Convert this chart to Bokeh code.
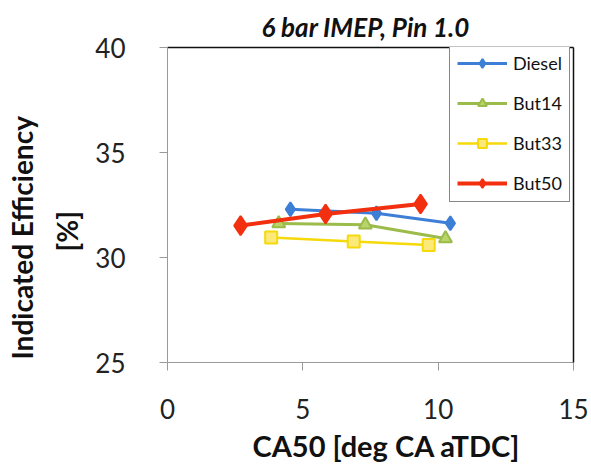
from bokeh.plotting import figure
from bokeh.models import LinearAxis, Range1d, FixedTicker, Legend, Title
from bokeh.embed import file_html
from bokeh.resources import INLINE

# CA50 timing [deg CA aTDC] and indicated efficiency [%] per fuel
diesel_x = [4.54, 7.72, 10.45]
diesel_y = [32.30, 32.11, 31.63]
but14_x = [4.11, 7.31, 10.27]
but14_y = [31.62, 31.56, 30.90]
but33_x = [3.83, 6.88, 9.65]
but33_y = [30.95, 30.76, 30.60]
but50_x = [2.70, 5.84, 9.35]
but50_y = [31.52, 32.07, 32.55]

x_ticks = [0, 5, 10, 15]
y_ticks = [25, 30, 35, 40]

FONT = "Lato"

p = figure(width=591, height=466, output_backend="svg", toolbar_location=None,
           x_range=Range1d(0, 15), y_range=Range1d(25, 40),
           min_border_left=167, min_border_right=18,
           min_border_top=47, min_border_bottom=103)
p.xgrid.visible = False
p.ygrid.visible = False
p.outline_line_color = None
p.background_fill_color = "white"
p.border_fill_color = "white"

p.title.text = "6 bar IMEP, Pin 1.0"
p.title.text_font = FONT
p.title.text_font_style = "bold italic"
p.title.text_font_size = "26px"
p.title.align = "left"
p.title.offset = 94
p.title.text_color = "#111111"

for ax, ticks in ((p.xaxis[0], x_ticks), (p.yaxis[0], y_ticks)):
    ax.ticker = FixedTicker(ticks=ticks)
    ax.minor_tick_line_color = None
    ax.axis_line_color = "#9a9a9a"
    ax.major_tick_line_color = "#9a9a9a"
    ax.major_tick_in = 0
    ax.major_tick_out = 8
    ax.major_label_text_font = FONT
    ax.major_label_text_font_size = "26px"
    ax.major_label_text_color = "#222222"
p.xaxis.major_label_standoff = 28
p.yaxis.major_label_standoff = 34

# black frame on top and right
for side in ("above", "right"):
    frame_axis = LinearAxis(ticker=FixedTicker(ticks=[]), axis_line_color="#111111",
                            axis_line_width=1.5, major_tick_line_color=None,
                            minor_tick_line_color=None, major_label_text_font_size="0px")
    p.add_layout(frame_axis, side)

# x-axis title
p.add_layout(Title(text="CA50 [deg CA aTDC]", align="left", offset=85, standoff=8,
                   text_font=FONT, text_font_style="bold",
                   text_font_size="29px", text_color="#111111"), "below")

# two-line y-axis title, stacked outward from the axis
for text, offset, standoff in (("[%]", 111, 18), ("Indicated Efficiency", 3, 0)):
    p.add_layout(Title(text=text, align="left", offset=offset, standoff=standoff,
                       text_font=FONT, text_font_style="bold",
                       text_font_size="28px", text_color="#111111"), "left")

series = [
    ("Diesel", diesel_x, diesel_y, "#3d7fd6", "#3d7fd6", "diamond", 14, 3),
    ("But14", but14_x, but14_y, "#9bbb4a", "#b8d46a", "triangle", 13, 3),
    ("But33", but33_x, but33_y, "#f5d90a", "#fbe97a", "square", 12, 2.5),
    ("But50", but50_x, but50_y, "#f2300f", "#f2300f", "diamond", 19, 4),
]

items = []
for name, xs, ys, col, fill, marker, size, lw in series:
    ln = p.line(xs, ys, line_color=col, line_width=lw)
    sc = p.scatter(xs, ys, marker=marker, size=size, line_color=col,
                   fill_color=fill, line_width=2)
    items.append((name, [ln, sc]))

legend = Legend(items=items, location=(282, 160))
legend.border_line_color = "#111111"
legend.border_line_width = 1.5
legend.background_fill_color = "white"
legend.background_fill_alpha = 1.0
legend.label_text_font = FONT
legend.label_text_font_size = "18px"
legend.label_text_color = "#111111"
legend.glyph_width = 50
legend.glyph_height = 22
legend.label_height = 22
legend.spacing = 18
legend.padding = 7
legend.label_standoff = 6
legend.margin = 0
p.add_layout(legend, "center")

open("out.html", "w").write(file_html(p, INLINE))
